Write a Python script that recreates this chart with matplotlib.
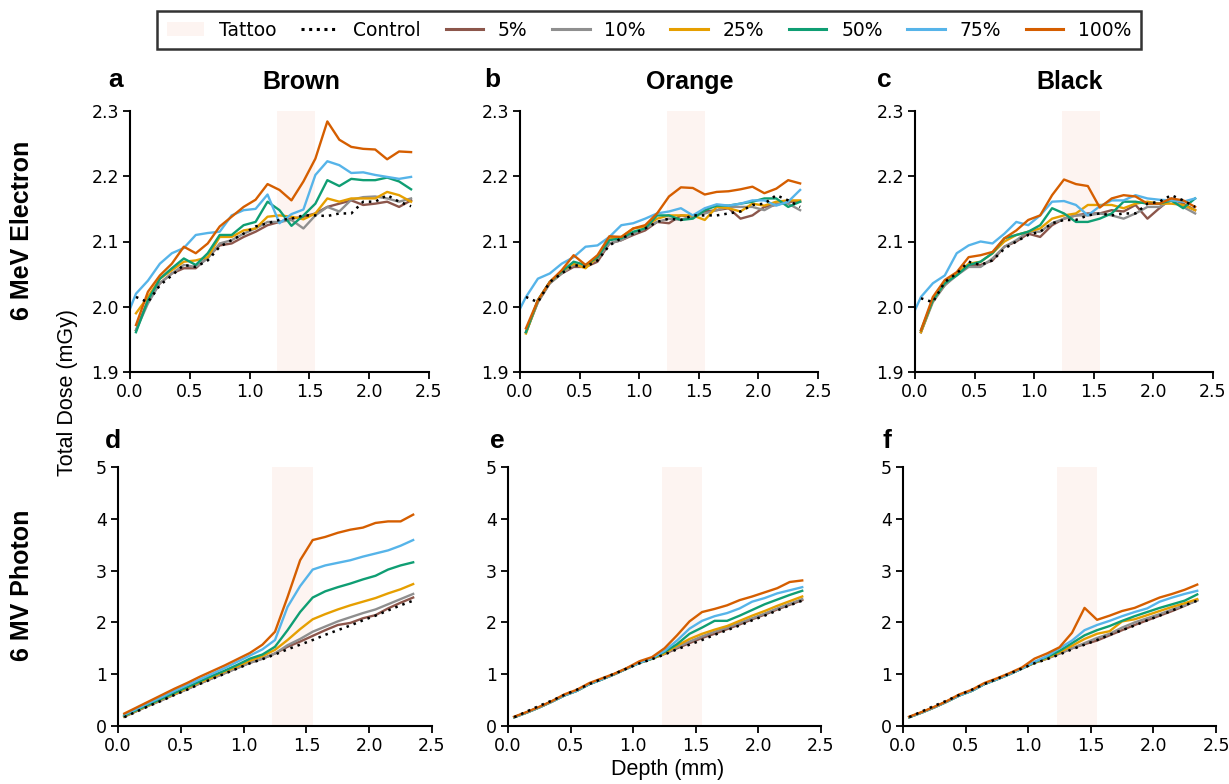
import matplotlib
matplotlib.use("Agg")
import matplotlib.pyplot as plt
from matplotlib.patches import Patch
from matplotlib.lines import Line2D

# ---------------- data ----------------
depth = [0.05, 0.15, 0.25, 0.35, 0.45, 0.55, 0.65, 0.75, 0.85, 0.95, 1.05, 1.15,
         1.25, 1.35, 1.45, 1.55, 1.65, 1.75, 1.85, 1.95, 2.05, 2.15, 2.25, 2.35]
depth75 = [0.0] + depth
tattoo_start, tattoo_end = 1.23, 1.55

inks = ["Brown", "Orange", "Black"]
labels = ["5%", "10%", "25%", "50%", "75%", "100%"]
colors = ["#8c564b", "#8f8f8f", "#e69f00", "#0f9e73", "#56b4e9", "#d55e00"]

# 6 MeV electron
e_ctrl_brown = [2.015, 2.007, 2.033, 2.048, 2.064, 2.061, 2.071, 2.092, 2.102, 2.112, 2.123, 2.128,
                2.133, 2.135, 2.140, 2.140, 2.139, 2.143, 2.143, 2.161, 2.161, 2.171, 2.161, 2.154]
e5_brown = [1.964, 2.010, 2.036, 2.051, 2.059, 2.059, 2.076, 2.094, 2.097, 2.107, 2.115, 2.125,
            2.130, 2.135, 2.138, 2.143, 2.153, 2.158, 2.163, 2.156, 2.158, 2.161, 2.153, 2.163]
e10_brown = [1.964, 2.005, 2.036, 2.051, 2.064, 2.061, 2.074, 2.097, 2.102, 2.112, 2.120, 2.130,
             2.130, 2.133, 2.120, 2.140, 2.153, 2.146, 2.164, 2.168, 2.169, 2.166, 2.161, 2.166]
e25_brown = [1.990, 2.015, 2.043, 2.056, 2.069, 2.071, 2.076, 2.107, 2.107, 2.117, 2.120, 2.138,
             2.140, 2.138, 2.134, 2.143, 2.166, 2.161, 2.166, 2.166, 2.166, 2.176, 2.171, 2.161]
e50_brown = [1.961, 2.010, 2.043, 2.059, 2.074, 2.064, 2.082, 2.110, 2.110, 2.125, 2.130, 2.161,
             2.148, 2.124, 2.140, 2.158, 2.194, 2.185, 2.196, 2.194, 2.194, 2.198, 2.192, 2.180]
e75_brown = [1.997, 2.020, 2.040, 2.066, 2.082, 2.090, 2.110, 2.113, 2.115, 2.140, 2.148, 2.150, 2.172,
             2.128, 2.142, 2.149, 2.202, 2.223, 2.217, 2.205, 2.206, 2.202, 2.199, 2.196, 2.199]
e100_brown = [1.972, 2.023, 2.048, 2.066, 2.092, 2.082, 2.097, 2.123, 2.138, 2.153, 2.164, 2.188,
              2.179, 2.163, 2.192, 2.227, 2.284, 2.256, 2.245, 2.242, 2.241, 2.226, 2.238, 2.237]

e_ctrl_orange = [2.015, 2.007, 2.038, 2.051, 2.064, 2.061, 2.071, 2.094, 2.105, 2.112, 2.120, 2.130,
                 2.135, 2.133, 2.140, 2.140, 2.140, 2.143, 2.146, 2.156, 2.158, 2.171, 2.163, 2.153]
e5_orange = [1.961, 2.007, 2.036, 2.051, 2.061, 2.061, 2.069, 2.097, 2.102, 2.110, 2.117, 2.130,
             2.128, 2.140, 2.138, 2.146, 2.148, 2.151, 2.135, 2.140, 2.153, 2.156, 2.161, 2.161]
e10_orange = [1.961, 2.007, 2.036, 2.051, 2.064, 2.061, 2.074, 2.097, 2.102, 2.112, 2.120, 2.130,
              2.135, 2.133, 2.140, 2.143, 2.148, 2.153, 2.153, 2.153, 2.148, 2.158, 2.158, 2.148]
e25_orange = [1.959, 2.010, 2.038, 2.054, 2.066, 2.059, 2.076, 2.105, 2.107, 2.120, 2.123, 2.135,
              2.140, 2.140, 2.140, 2.133, 2.153, 2.151, 2.146, 2.158, 2.155, 2.161, 2.163, 2.163]
e50_orange = [1.961, 2.010, 2.038, 2.054, 2.069, 2.064, 2.076, 2.102, 2.105, 2.115, 2.120, 2.140,
              2.140, 2.133, 2.135, 2.148, 2.155, 2.155, 2.158, 2.161, 2.166, 2.166, 2.153, 2.161]
e75_orange = [1.997, 2.015, 2.043, 2.051, 2.066, 2.076, 2.092, 2.094, 2.107, 2.125, 2.128, 2.135, 2.143,
              2.146, 2.151, 2.140, 2.151, 2.157, 2.155, 2.158, 2.163, 2.163, 2.155, 2.161, 2.179]
e100_orange = [1.967, 2.010, 2.038, 2.056, 2.079, 2.064, 2.079, 2.108, 2.107, 2.120, 2.125, 2.143,
               2.169, 2.183, 2.182, 2.172, 2.176, 2.177, 2.180, 2.184, 2.174, 2.181, 2.194, 2.189]

e_ctrl_black = [2.013, 2.007, 2.038, 2.051, 2.069, 2.064, 2.071, 2.089, 2.100, 2.110, 2.115, 2.128,
                2.133, 2.133, 2.140, 2.143, 2.140, 2.143, 2.143, 2.158, 2.161, 2.171, 2.163, 2.153]
e5_black = [1.961, 2.010, 2.033, 2.051, 2.064, 2.064, 2.071, 2.092, 2.100, 2.112, 2.107, 2.125,
            2.135, 2.140, 2.143, 2.143, 2.148, 2.146, 2.156, 2.135, 2.151, 2.166, 2.158, 2.148]
e10_black = [1.961, 2.007, 2.033, 2.048, 2.061, 2.061, 2.074, 2.092, 2.102, 2.115, 2.115, 2.128,
             2.135, 2.140, 2.140, 2.143, 2.140, 2.135, 2.143, 2.153, 2.153, 2.163, 2.153, 2.143]
e25_black = [1.961, 2.010, 2.036, 2.051, 2.066, 2.069, 2.082, 2.100, 2.110, 2.115, 2.120, 2.135,
             2.140, 2.143, 2.156, 2.156, 2.156, 2.151, 2.158, 2.161, 2.158, 2.158, 2.156, 2.148]
e50_black = [1.964, 2.010, 2.036, 2.048, 2.064, 2.069, 2.082, 2.105, 2.110, 2.115, 2.125, 2.151,
             2.143, 2.130, 2.130, 2.135, 2.143, 2.161, 2.161, 2.158, 2.158, 2.163, 2.151, 2.166]
e75_black = [1.995, 2.015, 2.036, 2.048, 2.082, 2.094, 2.100, 2.097, 2.112, 2.130, 2.125, 2.140, 2.161,
             2.162, 2.156, 2.140, 2.154, 2.163, 2.163, 2.171, 2.166, 2.164, 2.163, 2.161, 2.166]
e100_black = [1.964, 2.015, 2.041, 2.053, 2.076, 2.079, 2.084, 2.105, 2.117, 2.133, 2.140, 2.171,
              2.195, 2.188, 2.185, 2.152, 2.166, 2.171, 2.169, 2.158, 2.158, 2.166, 2.163, 2.153]

# 6 MV photon
p_ctrl = [0.17, 0.28, 0.39, 0.49, 0.60, 0.70, 0.81, 0.91, 1.01, 1.11, 1.21, 1.29,
          1.38, 1.48, 1.57, 1.66, 1.76, 1.85, 1.94, 2.04, 2.13, 2.23, 2.33, 2.42]

p5_brown = [0.18, 0.29, 0.40, 0.50, 0.61, 0.71, 0.82, 0.92, 1.02, 1.12, 1.22, 1.30,
            1.40, 1.53, 1.63, 1.74, 1.85, 1.95, 1.99, 2.08, 2.14, 2.27, 2.38, 2.48]
p10_brown = [0.18, 0.29, 0.40, 0.50, 0.61, 0.71, 0.82, 0.92, 1.02, 1.12, 1.22, 1.30,
             1.40, 1.56, 1.68, 1.82, 1.92, 2.02, 2.10, 2.18, 2.25, 2.35, 2.45, 2.55]
p25_brown = [0.19, 0.30, 0.41, 0.52, 0.62, 0.73, 0.84, 0.94, 1.05, 1.15, 1.26, 1.35,
             1.47, 1.66, 1.87, 2.06, 2.16, 2.25, 2.33, 2.40, 2.47, 2.56, 2.64, 2.74]
p50_brown = [0.20, 0.31, 0.42, 0.53, 0.64, 0.75, 0.86, 0.97, 1.07, 1.18, 1.30, 1.38,
             1.53, 1.85, 2.20, 2.48, 2.60, 2.68, 2.75, 2.83, 2.90, 3.02, 3.10, 3.16]
p75_brown = [0.22, 0.33, 0.45, 0.56, 0.68, 0.79, 0.90, 1.01, 1.12, 1.24, 1.36, 1.48,
             1.66, 2.30, 2.70, 3.02, 3.10, 3.15, 3.20, 3.27, 3.33, 3.39, 3.48, 3.59]
p100_brown = [0.24, 0.36, 0.48, 0.60, 0.72, 0.83, 0.95, 1.06, 1.17, 1.29, 1.41, 1.57,
              1.82, 2.49, 3.20, 3.59, 3.65, 3.73, 3.79, 3.83, 3.92, 3.95, 3.95, 4.08]

p5_orange = [0.17, 0.26, 0.36, 0.47, 0.59, 0.68, 0.81, 0.90, 1.00, 1.11, 1.22, 1.30,
             1.39, 1.50, 1.60, 1.70, 1.78, 1.87, 1.96, 2.06, 2.15, 2.25, 2.34, 2.43]
p10_orange = [0.17, 0.26, 0.36, 0.47, 0.59, 0.68, 0.81, 0.90, 1.00, 1.11, 1.22, 1.30,
              1.40, 1.52, 1.63, 1.73, 1.82, 1.90, 1.99, 2.08, 2.17, 2.27, 2.36, 2.45]
p25_orange = [0.17, 0.26, 0.36, 0.47, 0.59, 0.68, 0.81, 0.90, 1.00, 1.11, 1.22, 1.30,
              1.40, 1.55, 1.68, 1.78, 1.86, 1.93, 2.03, 2.13, 2.22, 2.32, 2.41, 2.50]
p50_orange = [0.17, 0.26, 0.36, 0.47, 0.59, 0.68, 0.81, 0.90, 1.00, 1.11, 1.22, 1.30,
              1.43, 1.58, 1.78, 1.90, 2.03, 2.03, 2.13, 2.24, 2.35, 2.44, 2.53, 2.61]
p75_orange = [0.17, 0.26, 0.36, 0.47, 0.59, 0.68, 0.81, 0.90, 1.00, 1.11, 1.22, 1.31,
              1.45, 1.65, 1.88, 2.03, 2.12, 2.18, 2.27, 2.40, 2.47, 2.56, 2.62, 2.68]
p100_orange = [0.18, 0.27, 0.37, 0.48, 0.61, 0.70, 0.83, 0.92, 1.01, 1.12, 1.25, 1.33,
               1.50, 1.75, 2.02, 2.20, 2.26, 2.33, 2.43, 2.50, 2.58, 2.66, 2.78, 2.81]

p5_black = [0.17, 0.26, 0.36, 0.47, 0.59, 0.68, 0.81, 0.90, 1.00, 1.11, 1.22, 1.30,
            1.40, 1.50, 1.58, 1.65, 1.75, 1.85, 1.95, 2.04, 2.13, 2.22, 2.32, 2.43]
p10_black = [0.17, 0.26, 0.36, 0.47, 0.59, 0.68, 0.81, 0.90, 1.00, 1.11, 1.22, 1.30,
             1.40, 1.50, 1.60, 1.70, 1.78, 1.90, 2.00, 2.08, 2.16, 2.25, 2.33, 2.42]
p25_black = [0.17, 0.26, 0.36, 0.47, 0.59, 0.68, 0.81, 0.90, 1.00, 1.11, 1.22, 1.31,
             1.42, 1.55, 1.68, 1.78, 1.83, 2.02, 2.06, 2.14, 2.22, 2.30, 2.37, 2.45]
p50_black = [0.17, 0.26, 0.36, 0.47, 0.59, 0.68, 0.81, 0.90, 1.00, 1.11, 1.23, 1.33,
             1.45, 1.60, 1.75, 1.85, 1.93, 2.03, 2.12, 2.20, 2.28, 2.35, 2.42, 2.54]
p75_black = [0.17, 0.26, 0.36, 0.47, 0.59, 0.68, 0.81, 0.90, 1.00, 1.11, 1.24, 1.35,
             1.50, 1.65, 1.85, 1.95, 2.03, 2.12, 2.20, 2.27, 2.40, 2.48, 2.55, 2.61]
p100_black = [0.18, 0.27, 0.37, 0.48, 0.61, 0.70, 0.83, 0.92, 1.02, 1.13, 1.30, 1.40,
              1.52, 1.80, 2.28, 2.05, 2.13, 2.22, 2.28, 2.38, 2.48, 2.55, 2.63, 2.73]

electron = {
    "Brown": (e_ctrl_brown, [e5_brown, e10_brown, e25_brown, e50_brown, e75_brown, e100_brown]),
    "Orange": (e_ctrl_orange, [e5_orange, e10_orange, e25_orange, e50_orange, e75_orange, e100_orange]),
    "Black": (e_ctrl_black, [e5_black, e10_black, e25_black, e50_black, e75_black, e100_black]),
}
photon = {
    "Brown": (p_ctrl, [p5_brown, p10_brown, p25_brown, p50_brown, p75_brown, p100_brown]),
    "Orange": (p_ctrl, [p5_orange, p10_orange, p25_orange, p50_orange, p75_orange, p100_orange]),
    "Black": (p_ctrl, [p5_black, p10_black, p25_black, p50_black, p75_black, p100_black]),
}

# ---------------- figure ----------------
W, H = 1229, 784
fig = plt.figure(figsize=(W / 100, H / 100), dpi=100)
TATTOO = "#fdf4f1"
SANS = ["Liberation Sans", "DejaVu Sans"]

def px_axes(x0, x1, ytop, ybot):
    return fig.add_axes([x0 / W, 1 - ybot / H, (x1 - x0) / W, (ybot - ytop) / H])

top_pos = [(130, 429), (520, 818), (915, 1213)]
bot_pos = [(118, 432), (508, 821), (903, 1216)]

def style(ax):
    for s in ["top", "right"]:
        ax.spines[s].set_visible(False)
    for s in ["left", "bottom"]:
        ax.spines[s].set_linewidth(1.5)
    ax.tick_params(direction="out", length=5, width=1.3, labelsize=12.5, pad=3)
    ax.set_xlim(0, 2.5)
    ax.set_xticks([0.0, 0.5, 1.0, 1.5, 2.0, 2.5])
    ax.set_xticklabels(["0.0", "0.5", "1.0", "1.5", "2.0", "2.5"])

def draw(ax, ctrl, series):
    ax.axvspan(tattoo_start, tattoo_end, color=TATTOO, lw=0, zorder=0)
    for lab, col, vals in zip(labels, colors, series):
        xs = depth75 if len(vals) == len(depth75) else depth
        ax.plot(xs, vals, color=col, lw=1.7, zorder=2)
    ax.plot(depth, ctrl, color="black", lw=1.8, ls=(0, (1, 2)), zorder=3)

for i, ink in enumerate(inks):
    ax = px_axes(top_pos[i][0], top_pos[i][1], 111, 372)
    style(ax)
    ctrl, ser = electron[ink]
    draw(ax, ctrl, ser)
    ax.set_ylim(1.9, 2.3)
    ax.set_yticks([1.9, 2.0, 2.1, 2.2, 2.3])
    ax.set_yticklabels(["1.9", "2.0", "2.1", "2.2", "2.3"])

    ax2 = px_axes(bot_pos[i][0], bot_pos[i][1], 467, 726)
    style(ax2)
    ctrl, ser = photon[ink]
    draw(ax2, ctrl, ser)
    ax2.set_ylim(0, 5)
    ax2.set_yticks([0, 1, 2, 3, 4, 5])

# titles and panel letters
title_x = [301, 690, 1070]
for ink, tx in zip(inks, title_x):
    fig.text(tx / W, 1 - 82 / H, ink, ha="center", va="center", fontsize=18,
             fontweight="bold", family=SANS)
for letter, (lx, ly) in zip("abcdef", [(116, 80), (492, 80), (884, 80),
                                       (113, 441), (497, 441), (887, 441)]):
    fig.text(lx / W, 1 - ly / H, letter, ha="center", va="center", fontsize=19,
             fontweight="bold", family=SANS)

fig.text(22 / W, 1 - 230 / H, "6 MeV Electron", rotation=90, ha="center", va="center",
         fontsize=18, fontweight="bold", family=SANS)
fig.text(22 / W, 1 - 585 / H, "6 MV Photon", rotation=90, ha="center", va="center",
         fontsize=18, fontweight="bold", family=SANS)
fig.text(68 / W, 1 - 392 / H, "Total Dose (mGy)", rotation=90, ha="center", va="center",
         fontsize=15.5, family=SANS)
fig.text(668 / W, 1 - 770 / H, "Depth (mm)", ha="center", va="center",
         fontsize=15.5, family=SANS)

# legend
handles = [Patch(facecolor=TATTOO, edgecolor="none", label="Tattoo"),
           Line2D([], [], color="black", lw=2.2, ls=(0, (1, 1.5)), label="Control")]
handles += [Line2D([], [], color=c, lw=2.2, label=l) for l, c in zip(labels, colors)]
leg = fig.legend(handles=handles, loc="center", bbox_to_anchor=(649 / W, 1 - 30 / H),
                 ncol=8, frameon=True, fancybox=False, fontsize=13.5, handlelength=2.0,
                 columnspacing=1.3, handletextpad=0.8, borderpad=0.5)
leg.get_frame().set_edgecolor("black")
leg.get_frame().set_linewidth(1.8)

fig.savefig("out.png", dpi=100)
